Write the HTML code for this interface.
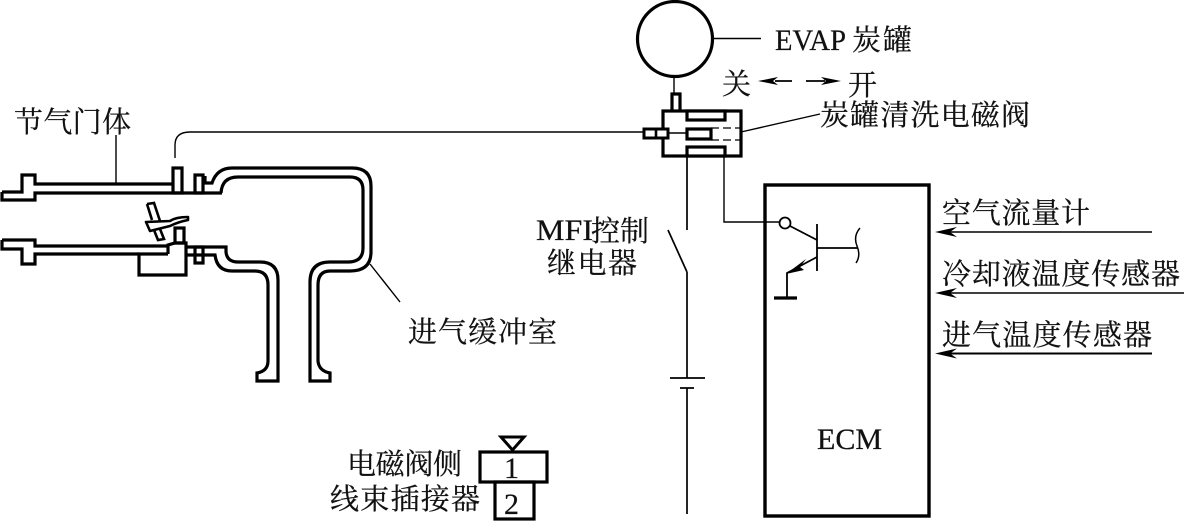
<!DOCTYPE html>
<html>
<head>
<meta charset="utf-8">
<style>
html,body{margin:0;padding:0;background:#fff}
svg{display:block}
text{fill:#111;stroke:#111;stroke-width:.25px;font-family:"Liberation Serif","Noto Serif CJK SC",serif;font-size:29px}
.t{fill:none;stroke:#000;stroke-width:3.2}
.m{fill:none;stroke:#000;stroke-width:2.6}
.n{fill:none;stroke:#000;stroke-width:1.4}
</style>
</head>
<body>
<svg width="1184" height="521" viewBox="0 0 1184 521" xmlns="http://www.w3.org/2000/svg">

<!-- upper throttle tube -->
<path class="t" d="M2 192H22V175H35V184H173M2 199V200H35V193H222"/>
<path class="t" d="M2 192V200"/>
<rect class="t" x="173" y="168" width="9" height="25"/>
<rect class="t" x="195" y="175" width="8" height="18"/>
<!-- lower throttle tube -->
<path class="t" d="M2 240H35V246H168M2 240V249H22V264H35V254H139"/>
<path class="t" d="M168 254V245L175 243H186V275H139V254H168"/>
<rect class="t" x="175" y="228" width="9" height="15"/>
<rect class="t" x="195" y="247" width="8" height="16"/>
<path class="t" d="M186 247H226V252Q227 262 238 262H260Q278 262 278 280V381H257V373Q268 371 268 361V285Q268 271 255 271H232Q217 271 215 255H186"/>
<!-- throttle plate -->
<path d="M146 222L170 221Q176 217 188 217V220Q178 222 170 226L150 231Z" fill="none" stroke="#000" stroke-width="2.6" stroke-linejoin="round"/>
<path class="m" d="M147 204L154 203L160 221M160 229L164 239L158 240L154 230M147 204L152 220"/>

<!-- chamber -->
<path class="t" d="M203 183H212Q217 168 232 168H352Q371 168 371 186V252Q371 271 350 271H330Q318 271 318 285V361Q319 371 330 373V381H310V282Q310 262 330 262H348Q363 262 363 248V190Q363 177 350 177H238Q222 177 221 193"/>
<path class="t" d="M205 176V183"/>

<!-- leaders -->
<path class="n" d="M116 135V184M370 264L400 302"/>
<path class="n" d="M175 158V145Q175 132 190 132H644"/>

<!-- canister -->
<circle cx="675" cy="39" r="37.500" fill="none" stroke="#000" stroke-width="3.2"/>
<path class="n" d="M714 38.500H761M674 78V94"/>

<!-- solenoid -->
<path class="t" d="M672 110V94H680V110"/>
<rect class="t" x="663" y="111" width="78" height="45"/>
<rect x="687" y="111" width="38" height="9" fill="#fff" stroke="#000" stroke-width="3.2"/>
<rect x="687" y="129" width="24" height="10" fill="#fff" stroke="#000" stroke-width="3.2"/>
<rect x="687" y="147" width="38" height="9" fill="#fff" stroke="#000" stroke-width="3.2"/>
<rect x="644" y="129" width="24" height="9" fill="#fff" stroke="#000" stroke-width="3"/>
<path class="m" d="M656 129V138"/>
<path class="n" d="M668 133H687"/>
<path d="M711 128H741M711 140H741" fill="none" stroke="#000" stroke-width="1.2" stroke-dasharray="8 4"/>
<path class="n" d="M741 132L820 114"/>

<!-- wires / switch / battery -->
<path class="m" d="M687 156V230M668 230L687 272M687 272V378M670 378H705M680 388H694M687 388V514" style="stroke-width:1.7"/>
<path class="n" d="M724 156V222H780"/>

<!-- ECM -->
<rect class="t" x="765" y="185" width="164" height="331" style="stroke-width:3.4"/>
<circle cx="785" cy="223" r="5.500" fill="#fff" stroke="#000" stroke-width="1.8"/>
<path class="n" d="M790 226L817 240M817 224V271M817 248H858" style="stroke-width:1.8"/>
<path class="n" d="M860 228Q853 236 857 246Q861 256 856 263" style="stroke-width:1.500"/>
<path class="n" d="M817 257L787 273V298" style="stroke-width:1.8"/>
<path d="M786 274L806 259L800 267L804 270Z" fill="#000"/>
<path d="M774 298H797" stroke="#000" stroke-width="3.2"/>

<!-- sensor inputs -->
<path class="n" d="M1152 232H945" style="stroke-width:1.600"/>
<path d="M935 232L957 227L950 232L957 237Z" fill="#000"/>
<path class="n" d="M1184 293H945" style="stroke-width:1.400"/>
<path d="M935 293L957 288L950 293L957 298Z" fill="#000"/>
<path class="n" d="M1152 353.500H945" style="stroke-width:2"/>
<path d="M935 353.500L957 348.500L950 353.500L957 358.500Z" fill="#000"/>

<!-- arrows -->
<path class="n" d="M775 81H792M806 81H825" style="stroke-width:1.800"/>
<path d="M758 81L778 77L773 81L778 85Z" fill="#000"/>
<path d="M841 81L821 77L826 81L821 85Z" fill="#000"/>

<!-- connector -->
<path d="M501 437H524L512.500 450Z" fill="none" stroke="#000" stroke-width="3"/>
<rect class="t" x="480" y="452" width="67" height="30"/>
<rect class="t" x="495" y="482" width="39" height="37"/>

<!-- labels -->
<text x="775" y="50" style="font-size:30px" textLength="71" lengthAdjust="spacingAndGlyphs">EVAP</text>
<text x="852" y="50" textLength="60">炭罐</text>
<text x="722" y="94">关</text>
<text x="848" y="95">开</text>
<text x="820" y="125" textLength="210">炭罐清洗电磁阀</text>
<text x="14" y="132" textLength="117">节气门体</text>
<text x="536" y="240" style="font-size:30px" textLength="57" lengthAdjust="spacingAndGlyphs">MFI</text>
<text x="591" y="241" textLength="58">控制</text>
<text x="547" y="273" textLength="90">继电器</text>
<text x="408" y="342" textLength="149">进气缓冲室</text>
<text x="942" y="223" textLength="148">空气流量计</text>
<text x="942" y="284" textLength="238">冷却液温度传感器</text>
<text x="942" y="345" textLength="210">进气温度传感器</text>
<text x="817" y="449" style="font-size:30px" textLength="65" lengthAdjust="spacingAndGlyphs">ECM</text>
<text x="347" y="474" textLength="115">电磁阀侧</text>
<text x="330" y="509" textLength="150">线束插接器</text>
<text x="504" y="478" style="font-size:30px">1</text>
<text x="504" y="514" style="font-size:30px">2</text>
</svg>
</body>
</html>
